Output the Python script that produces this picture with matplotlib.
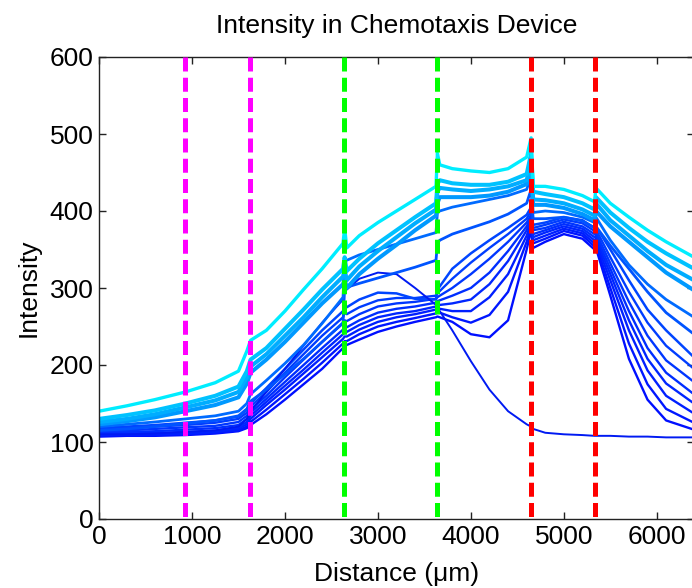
import matplotlib
matplotlib.use("Agg")
import matplotlib.pyplot as plt

# ---------------- data ----------------
X = [0, 300, 600, 930, 1250, 1500, 1590, 1630, 1800, 2000, 2200, 2400,
     2625, 2642, 2665, 2800, 3000, 3200, 3400, 3625, 3640, 3665, 3800,
     4000, 4200, 4400, 4600, 4648, 4670, 4800, 5000, 5200, 5330, 5345,
     5500, 5700, 5900, 6100, 6400]

cyan = [140, 147, 155, 165, 177, 192, 218, 232, 245, 270, 298, 325,
        358, 378, 352, 368, 385, 400, 415, 432, 475, 460, 455,
        452, 450, 455, 470, 495, 432, 432, 428, 420, 412, 430,
        410, 392, 375, 360, 340]
light1 = [130, 135, 141, 150, 160, 172, 192, 207, 222, 247, 272, 298,
          325, 340, 322, 338, 358, 375, 392, 410, 435, 440, 436,
          434, 434, 438, 448, 475, 425, 422, 418, 410, 402, 418,
          398, 378, 360, 345, 325]
light2 = [126, 130, 136, 145, 154, 165, 184, 198, 214, 238, 262, 288,
          315, 325, 310, 328, 348, 366, 384, 402, 425, 430, 428,
          426, 428, 432, 440, 465, 415, 414, 410, 402, 394, 410,
          388, 368, 348, 330, 310]
light3 = [123, 127, 132, 140, 148, 158, 176, 190, 207, 230, 255, 280,
          305, 312, 300, 318, 338, 356, 375, 394, 410, 418, 418,
          418, 420, 425, 435, 455, 408, 408, 404, 396, 388, 400,
          380, 360, 340, 320, 297]
mid1 = [120, 123, 126, 130, 134, 140, 150, 162, 180, 202, 226, 254,
        288, 338, 336, 343, 350, 357, 364, 372, 398, 400, 405,
        410, 415, 420, 428, 445, 398, 400, 398, 392, 385, 392,
        362, 330, 305, 285, 262]
mid2 = [115, 117, 120, 124, 128, 134, 143, 153, 168, 188, 208, 230,
        255, 300, 301, 306, 313, 320, 327, 336, 358, 362, 370,
        378, 386, 396, 410, 428, 390, 390, 392, 387, 378, 380,
        355, 325, 295, 268, 240]
peaked = [110, 110, 111, 113, 115, 120, 130, 140, 165, 195, 225, 255,
          285, 295, 298, 312, 320, 318, 300, 278, 275, 270, 245,
          205, 168, 140, 123, 120, 117, 112, 110, 109, 108, 108,
          108, 107, 107, 106, 106]
dark1 = [118, 120, 122, 125, 128, 133, 142, 150, 170, 195, 220, 245,
         270, 278, 275, 285, 294, 293, 286, 285, 298, 302, 325,
         345, 362, 378, 395, 405, 382, 385, 392, 388, 378, 380,
         350, 310, 272, 245, 210]
dark2 = [116, 118, 120, 122, 125, 130, 138, 146, 165, 190, 214, 238,
         262, 268, 266, 275, 284, 287, 287, 290, 293, 296, 312,
         333, 352, 370, 390, 400, 378, 382, 389, 384, 374, 376,
         340, 295, 255, 225, 195]
dark3 = [114, 115, 117, 119, 121, 126, 134, 142, 160, 184, 207, 230,
         254, 258, 257, 266, 276, 280, 282, 286, 288, 290, 300,
         318, 338, 360, 385, 395, 375, 378, 386, 380, 370, 372,
         332, 282, 238, 206, 178]
dark4 = [112, 113, 114, 116, 118, 122, 130, 138, 156, 178, 200, 222,
         246, 250, 249, 258, 268, 273, 276, 281, 283, 284, 290,
         300, 320, 348, 380, 392, 370, 375, 383, 377, 366, 368,
         325, 270, 222, 190, 162]
dark5 = [110, 111, 112, 113, 115, 119, 126, 134, 152, 173, 194, 216,
         240, 243, 243, 252, 262, 267, 270, 276, 278, 278, 280,
         285, 305, 335, 375, 390, 366, 372, 380, 374, 362, 364,
         318, 258, 208, 176, 150]
dark6 = [109, 110, 110, 111, 113, 117, 123, 130, 148, 168, 189, 210,
         234, 237, 237, 246, 256, 262, 266, 272, 273, 273, 270,
         270, 288, 318, 368, 385, 362, 368, 377, 371, 358, 360,
         310, 245, 193, 160, 137]
dark7 = [108, 109, 109, 110, 112, 115, 120, 126, 142, 162, 182, 203,
         228, 231, 231, 240, 250, 256, 261, 267, 268, 268, 262,
         255, 265, 295, 360, 380, 358, 364, 374, 368, 354, 356,
         300, 228, 175, 143, 125]
dark8 = [107, 108, 108, 109, 111, 114, 118, 122, 136, 155, 175, 195,
         222, 225, 226, 233, 243, 250, 256, 262, 263, 262, 256,
         240, 236, 258, 350, 375, 352, 360, 370, 364, 350, 352,
         290, 208, 155, 128, 116]

series = [dark8, dark7, dark6, dark5, dark4, dark3, dark2, dark1, peaked,
          mid2, mid1, light3, light2, light1, cyan]
series_colors = [(0, 0.06, 1), (0, 0.09, 1), (0, 0.12, 1), (0, 0.15, 1),
                 (0, 0.18, 1), (0, 0.21, 1), (0, 0.24, 1), (0, 0.27, 1),
                 (0, 0.10, 0.95), (0, 0.33, 1), (0, 0.42, 1),
                 (0, 0.60, 1), (0, 0.68, 1), (0, 0.76, 1), (0, 0.93, 1)]
series_widths = [1.7, 1.7, 1.7, 1.7, 1.7, 1.7, 1.7, 1.8, 1.4,
                 2.0, 2.0, 2.9, 2.9, 2.9, 2.4]

vlines_x = [930, 1620, 2640, 3640, 4650, 5340]
vlines_c = ['#ff00ff', '#ff00ff', '#00ff00', '#00ff00', '#ff0000', '#ff0000']

xticks = [0, 1000, 2000, 3000, 4000, 5000, 6000]
yticks = [0, 100, 200, 300, 400, 500, 600]

# ---------------- figure ----------------
plt.rcParams['font.family'] = ['Liberation Sans', 'DejaVu Sans']
fig = plt.figure(figsize=(6.92, 5.88), dpi=100)
ax = fig.add_axes([99 / 692, 69 / 588, 595 / 692, 462 / 588])

for ys, c, lw in zip(series, series_colors, series_widths):
    ax.plot(X, ys, color=c, lw=lw, solid_joinstyle='round', zorder=2)

for xv, c in zip(vlines_x, vlines_c):
    ax.plot([xv, xv], [600, 0], color=c, lw=3.6, dashes=(2.8, 1.25),
            solid_capstyle='butt', dash_capstyle='butt', zorder=3)

ax.set_xlim(0, 6400)
ax.set_ylim(0, 600)
ax.set_xticks(xticks)
ax.set_yticks(yticks)
ax.tick_params(direction='in', length=5, width=1, top=True, right=True,
               labelsize=19, pad=4, colors='#222222', labelcolor='black')
for s in ax.spines.values():
    s.set_color('#222222')
    s.set_linewidth(1.0)

ax.set_title('Intensity in Chemotaxis Device', fontsize=19, pad=17)
ax.set_xlabel('Distance (μm)', fontsize=19, labelpad=10)
ax.set_ylabel('Intensity', fontsize=19, labelpad=6)

fig.savefig('out.png', dpi=100)
